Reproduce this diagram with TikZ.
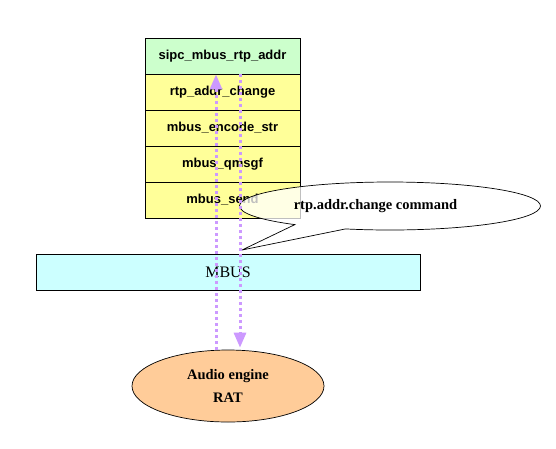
\documentclass[tikz,border=0pt]{standalone}
\usepackage{fontspec}
\setmainfont{Liberation Serif}
\newfontfamily\arialfont{Liberation Sans}
\usetikzlibrary{shapes.geometric,shapes.callouts,arrows.meta}
\definecolor{sipcgreen}{HTML}{CCFFCC}
\definecolor{rowyellow}{HTML}{FFFF99}
\definecolor{mbuscyan}{HTML}{CCFFFF}
\definecolor{ratorange}{HTML}{FFCC99}
\definecolor{arrowpurple}{HTML}{CC99FF}
\tikzset{
  stackrow/.style={draw=black, line width=0.9pt, minimum width=155pt, minimum height=36pt, inner sep=0pt, font=\arialfont\bfseries\fontsize{13}{15}\selectfont, fill=rowyellow},
  flowline/.style={draw=arrowpurple, line width=3pt, dash pattern=on 3pt off 3pt},
  flowtip/.style={-{Triangle[width=12pt,length=15pt,fill=arrowpurple]}},
}
\begin{document}
\begin{tikzpicture}[x=1pt,y=-1pt]
\useasboundingbox (0,0) rectangle (556,448);
% stack
\node[stackrow, fill=sipcgreen] (sipc) at (222.5,56) {sipc\_mbus\_rtp\_addr};
\node[stackrow] (rac) at (222.5,92) {rtp\_addr\_change};
\node[stackrow] (enc) at (222.5,128) {mbus\_encode\_str};
\node[stackrow] (qms) at (222.5,164) {mbus\_qmsgf};
\node[stackrow] (send) at (222.5,200) {mbus\_send};
% MBUS bar
\node[draw=black, line width=0.9pt, fill=mbuscyan, minimum width=384pt, minimum height=36pt, inner sep=0pt, font=\fontsize{16}{18}\selectfont] (mbus) at (228,272) {MBUS};
% audio engine
\node[ellipse, draw=black, line width=0.7pt, fill=ratorange, minimum width=192pt, minimum height=72pt, inner sep=0pt, align=center, font=\bfseries\fontsize{14.5}{23}\selectfont] (audio) at (228,386) {Audio engine\\RAT};
% callout
\coordinate (tip) at (242,250);
\node[ellipse callout, draw=black, line width=0.7pt, fill=white, fill opacity=0.75, minimum width=301pt, minimum height=48pt, inner sep=0pt, callout absolute pointer={(tip)}, callout pointer arc=22] (cmd) at (390,206) {};
\node[font=\bfseries\fontsize{14.5}{16}\selectfont, inner sep=0pt] (cmdtext) at (375.5,206) {rtp.addr.change command};
% flow arrows
\coordinate (lx) at (216,0);
\coordinate (rx) at (240,0);
\draw[flowline, flowtip] (audio.north -| lx) -- (sipc.south -| lx);
\draw[flowline, flowtip] (sipc.south -| rx) -- ([yshift=2pt]audio.north -| rx);
\end{tikzpicture}
\end{document}
